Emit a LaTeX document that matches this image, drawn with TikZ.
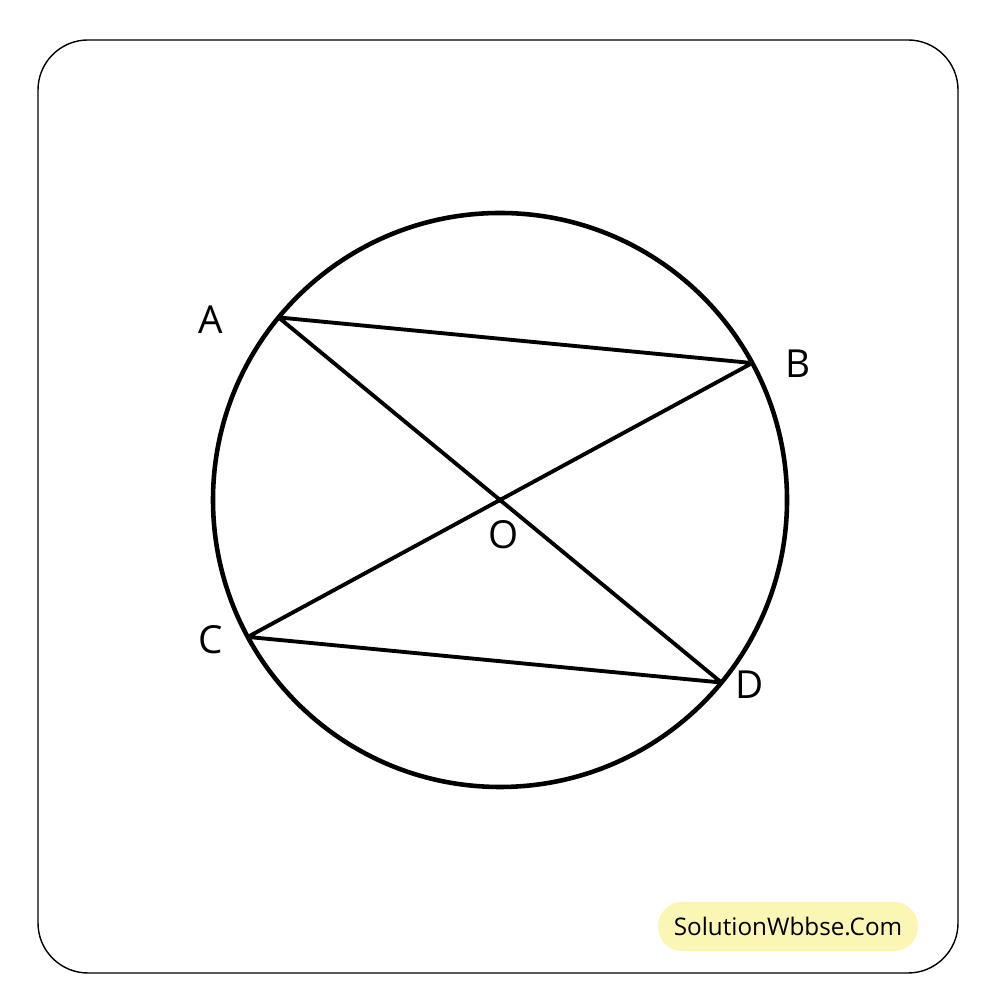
\documentclass[tikz,border=0pt]{standalone}
\usepackage{fontspec}
\setmainfont{Open Sans}
\usetikzlibrary{positioning,calc}
\definecolor{pill}{HTML}{FBF6B4}
\tikzset{
  chord/.style={line width=1.1pt, line cap=round, line join=round},
  ptlabel/.style={font=\fontsize{11}{13}\selectfont},
}
\begin{document}
\begin{tikzpicture}
\useasboundingbox (0,0) rectangle (10,10);
\draw[line width=0.4pt, rounded corners=0.5cm] (0.38,0.27) rectangle (9.58,9.6);
\coordinate (O) at (5,5);
\draw[line width=1.3pt] (O) circle (2.87);
\coordinate (A) at ($(O)+(140.5:2.87)$);
\coordinate (B) at ($(O)+(28.5:2.87)$);
\coordinate (C) at ($(O)+(208.5:2.87)$);
\coordinate (D) at ($(O)+(320.5:2.87)$);
\draw[chord] (A) -- (B) -- (C) -- (D) -- cycle;
\fill (O) circle (0.03);
\node[ptlabel] (la) at (2.11,6.8) {A};
\node[ptlabel] (lb) at (7.98,6.36) {B};
\node[ptlabel] (lc) at (2.11,3.6) {C};
\node[ptlabel] (ld) at (7.5,3.15) {D};
\node[ptlabel] (lo) at (5.04,4.65) {O};
\node[fill=pill, rounded corners=0.24cm, minimum width=2.6cm, minimum height=0.49cm,
  inner sep=0pt, font=\fontsize{6.9}{8}\selectfont] (mark) at (7.88,0.735) {SolutionWbbse.Com};
\end{tikzpicture}
\end{document}
